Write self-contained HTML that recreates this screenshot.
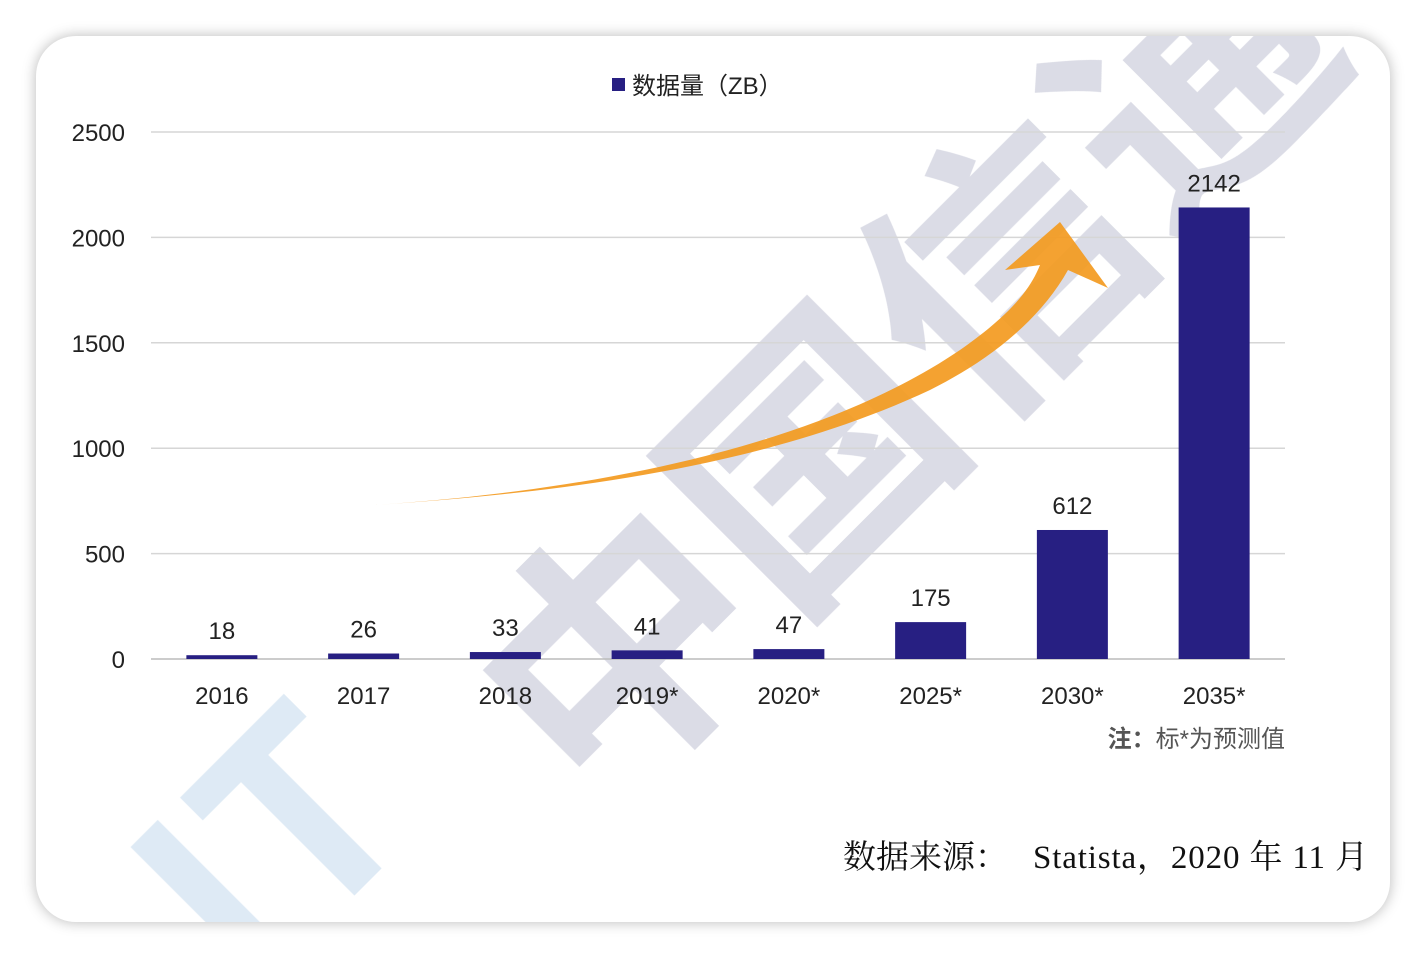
<!DOCTYPE html>
<html><head><meta charset="utf-8">
<style>
html,body{margin:0;padding:0;background:#fff;width:1426px;height:958px;overflow:hidden;}
#card{position:absolute;left:36px;top:36px;width:1354px;height:886px;border-radius:40px;background:#fff;box-shadow:0 0 14px rgba(0,0,0,0.28);overflow:hidden;}
svg{position:absolute;left:0;top:0;overflow:hidden;}
text{font-family:"Liberation Sans","Noto Sans CJK SC",sans-serif;}
</style></head><body>
<div id="card"></div>
<svg id="chart" width="1426" height="958">
  <defs><clipPath id="cardclip"><rect x="36" y="36" width="1354" height="886" rx="40"/></clipPath></defs>
  <g id="watermark" opacity="0.22" clip-path="url(#cardclip)">
    <text x="0" y="0" transform="translate(595,816) rotate(-45)" font-size="270" font-weight="bold" fill="#5a5f8c" style="font-family:'Noto Sans CJK SC',sans-serif">中国信通</text>
    <text x="0" y="0" transform="translate(250,1000) rotate(-45)" font-size="260" font-weight="bold" fill="#6aa0d0" style="font-family:'Noto Sans CJK SC',sans-serif">IT</text>
  </g>
  <g id="grid"></g>
  <g id="bars"></g>
  <g id="arrow">
    <path d="M375,505 C600,490 820,445 960,350 C1010,315 1030,290 1040,265 L1005,270 L1060,222 L1108,288 L1068,270 C1040,320 990,360 930,390 C780,460 600,490 375,505 Z" fill="#f39a1f" opacity="0.92"/>
  </g>
  <g>
    <rect x="612" y="78" width="13" height="13" fill="#271f82"/>
    <text x="632" y="94" font-size="24" fill="#222">数据量（ZB）</text>
  </g>
  <text x="1285" y="747" font-size="24" fill="#555" text-anchor="end"><tspan font-weight="bold">注：</tspan>标*为预测值</text>
  <g>
    <text x="843" y="868" font-size="33" fill="#111" style="font-family:'Liberation Serif','Noto Serif CJK SC',serif">数据来源：</text>
    <text x="1033" y="868" font-size="33" fill="#111" textLength="335" lengthAdjust="spacing" style="font-family:'Liberation Serif','Noto Serif CJK SC',serif">Statista，2020 年 11 月</text>
  </g>
</svg>
<script>
const categories=["2016","2017","2018","2019*","2020*","2025*","2030*","2035*"];
const values=[18,26,33,41,47,175,612,2142];
const yTicks=[0,500,1000,1500,2000,2500];
const svg=document.getElementById('chart'),NS="http://www.w3.org/2000/svg";
const x0=151,x1=1285,y0=659,ytop=132,ymax=2500;
const y=v=>y0-(v/ymax)*(y0-ytop);
const band=(x1-x0)/categories.length;
const xc=i=>x0+band*(i+0.5);
function mk(t,a,p){const e=document.createElementNS(NS,t);for(const k in a)e.setAttribute(k,a[k]);p.appendChild(e);return e;}
const g=document.getElementById('grid'),b=document.getElementById('bars');
yTicks.forEach(t=>{
  const l=mk('line',{x1:x0,x2:x1,y1:y(t),y2:y(t),stroke:t===0?'#bbb':'#d6d6d6','stroke-width':1.5},g);
  
  
  const tx=mk('text',{x:125,y:y(t)+9,'font-size':24,fill:'#222','text-anchor':'end'},g);
  tx.textContent=t;
  
  
});
categories.forEach((c,i)=>{
  const w=71,v=values[i];
  const r=mk('rect',{x:xc(i)-w/2,y:y(v),width:w,height:Math.max(y0-y(v),2),fill:'#271f82'},b);
  
  
  const vl=mk('text',{x:xc(i),y:y(v)-16,'font-size':24,fill:'#222','text-anchor':'middle'},b);
  vl.textContent=v;
  
  
  const xl=mk('text',{x:xc(i),y:704,'font-size':24,fill:'#222','text-anchor':'middle'},b);
  xl.textContent=c;
  
  
});
</script>
</body></html>
